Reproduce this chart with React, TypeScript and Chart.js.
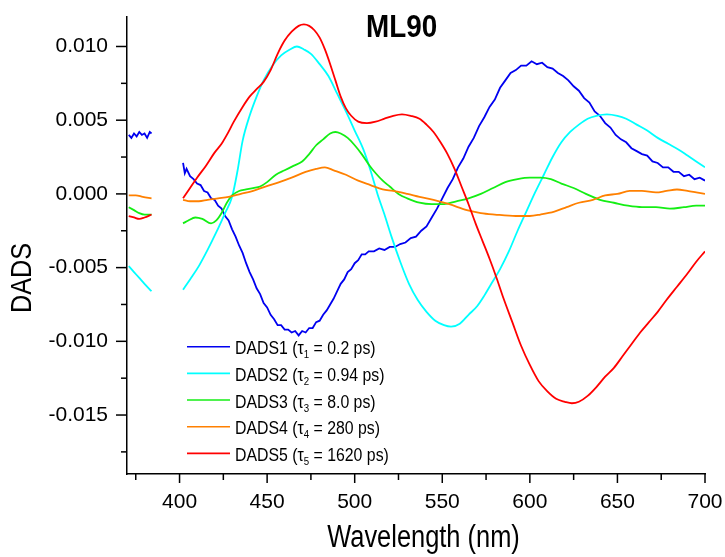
import React, { useEffect, useRef } from "react";
import { Chart, registerables } from "chart.js";

Chart.register(...registerables);

// ---------- axes ----------
const X_MIN = 370;
const X_MAX = 700;
const Y_MIN = -0.019;
const Y_MAX = 0.012;
const X_TICKS = [375, 400, 425, 450, 475, 500, 525, 550, 575, 600, 625, 650, 675, 700];
const X_LABELED = [400, 450, 500, 550, 600, 650, 700];
const Y_TICKS = [-0.0175, -0.015, -0.0125, -0.01, -0.0075, -0.005, -0.0025, 0, 0.0025, 0.005, 0.0075, 0.01];
const Y_LABELED = [-0.015, -0.01, -0.005, 0, 0.005, 0.01];

const TITLE = "ML90";
const X_TITLE = "Wavelength (nm)";
const Y_TITLE = "DADS";

// ---------- legend ----------
const LEGEND_NAMES = ["DADS1", "DADS2", "DADS3", "DADS4", "DADS5"];
const TAU_VALUES = ["0.2", "0.94", "8.0", "280", "1620"];

// ---------- data (null = gap in measurement) ----------
const DADS1_WL = [371, 372.5, 374, 375.5, 377, 378.5, 380, 381.5, 383, 384, 392,
  402, 403, 404, 406, 408, 410, 412, 414, 416, 418, 420, 422, 424, 426, 428, 430, 432, 434, 436, 438, 440,
  442, 444, 446, 448, 450, 452, 454, 456, 458, 460, 462, 464, 466, 468, 470, 472, 474, 476, 478, 480,
  482, 484, 486, 488, 490, 492, 494, 496, 498, 500, 502, 504, 506, 508, 511, 514, 517, 520, 523, 526,
  529, 532, 535, 538, 541, 544, 547, 550, 553, 556, 559, 562, 565, 568, 571, 574, 577, 580, 583, 586,
  589, 592, 595, 598, 601, 604, 607, 610, 613, 616, 619, 622, 625, 628, 631, 634, 637, 640, 643, 646,
  649, 652, 655, 658, 661, 664, 667, 670, 673, 676, 679, 682, 685, 688, 691, 694, 697, 700];
const DADS1 = [0.004, 0.0038, 0.0041, 0.0039, 0.0042, 0.004, 0.0041, 0.0038, 0.0042, 0.0041, null,
  0.0021, 0.0014, 0.0017, 0.0012, 0.001, 0.0007, 0.0006, 0.0002, 0.0001, -0.0003, -0.0004, -0.0008, -0.001, -0.0015, -0.0018, -0.0024, -0.0029, -0.0035, -0.004, -0.0047, -0.0053,
  -0.0058, -0.0064, -0.0068, -0.0074, -0.0077, -0.0082, -0.0085, -0.0089, -0.0089, -0.0092, -0.0092, -0.0094, -0.0093, -0.0096, -0.0093, -0.0094, -0.0091, -0.0091, -0.0087, -0.0086,
  -0.0082, -0.0079, -0.0075, -0.0071, -0.0066, -0.0061, -0.0058, -0.0053, -0.0051, -0.0047, -0.0045, -0.0041, -0.0041, -0.0039, -0.0039, -0.0037, -0.0038, -0.0036, -0.0036, -0.0034,
  -0.0033, -0.003, -0.0029, -0.0025, -0.0022, -0.0016, -0.001, -0.0003, 0.0004, 0.001, 0.0018, 0.0024, 0.0032, 0.0038, 0.0046, 0.0052, 0.0059, 0.0064, 0.0072, 0.0077,
  0.0082, 0.0084, 0.0087, 0.0087, 0.009, 0.0088, 0.0089, 0.0086, 0.0085, 0.0082, 0.008, 0.0077, 0.0073, 0.007, 0.0065, 0.0062, 0.0056, 0.0053, 0.0048, 0.0045,
  0.004, 0.0037, 0.0035, 0.0031, 0.0029, 0.0027, 0.0026, 0.0022, 0.0021, 0.0018, 0.0018, 0.0015, 0.0015, 0.0012, 0.0013, 0.001, 0.0011, 0.0009];

const DADS2_WL = [371, 374, 377, 380, 384, 392,
  402, 406, 411, 416, 421, 426, 430, 433, 436, 440, 444, 448, 453, 458, 463, 467, 471, 475, 480, 485,
  490, 495, 500, 505, 509, 513, 517, 521, 526, 531, 536, 541, 546, 551, 555, 560, 565, 570, 574, 578,
  583, 588, 593, 598, 603, 608, 613, 618, 623, 628, 633, 638, 644, 650, 655, 661, 667, 673, 679, 685,
  690, 695, 700];
const DADS2 = [-0.0049, -0.0053, -0.0057, -0.0061, -0.0066, null,
  -0.0065, -0.0058, -0.0049, -0.0038, -0.0026, -0.0013, -0.0002, 0.0015, 0.0036, 0.0053, 0.0066, 0.0077, 0.0087, 0.0094, 0.0098, 0.01, 0.0098, 0.0095, 0.0088, 0.008,
  0.0068, 0.0056, 0.0043, 0.003, 0.0016, 0.0, -0.0014, -0.0029, -0.0046, -0.0061, -0.0072, -0.008, -0.0086, -0.0089, -0.009, -0.0088, -0.0082, -0.0076, -0.0069, -0.0061,
  -0.0051, -0.0039, -0.0025, -0.0012, 0.0001, 0.0013, 0.0025, 0.0035, 0.0042, 0.0047, 0.0051, 0.0053, 0.0054, 0.0053, 0.0051, 0.0047, 0.0043, 0.0038, 0.0034, 0.003,
  0.0026, 0.0022, 0.0018];

const DADS3_WL = [371, 374, 377, 380, 384, 392,
  402, 405, 409, 413, 418, 421, 424, 427, 430, 434, 438, 442, 446, 450, 455, 460, 465, 470, 474, 478,
  482, 486, 489, 492, 496, 500, 504, 508, 512, 516, 520, 525, 530, 537, 544, 551, 558, 565, 572, 579,
  586, 593, 600, 606, 612, 618, 625, 632, 640, 648, 656, 664, 672, 680, 688, 695, 700];
const DADS3 = [-0.0009, -0.0011, -0.0013, -0.0014, -0.0014, null,
  -0.002, -0.0018, -0.0016, -0.0017, -0.002, -0.0018, -0.0013, -0.0006, -0.0001, 0.0002, 0.0003, 0.0004, 0.0005, 0.0008, 0.0013, 0.0016, 0.0019, 0.0022, 0.0027, 0.0033,
  0.0037, 0.0041, 0.0042, 0.0041, 0.0038, 0.0033, 0.0027, 0.002, 0.0014, 0.0009, 0.0005, 0.0, -0.0003, -0.0006, -0.0007, -0.0007, -0.0005, -0.0003, 0.0, 0.0004,
  0.0008, 0.001, 0.0011, 0.0011, 0.001, 0.0007, 0.0004, 0.0, -0.0004, -0.0006, -0.0008, -0.0009, -0.0009, -0.001, -0.0009, -0.0008, -0.0008];

const DADS4_WL = [371, 375, 379, 384, 392,
  402, 406, 411, 416, 422, 428, 435, 442, 449, 457, 464, 472, 478, 483, 488, 495, 502, 509, 516, 522,
  530, 537, 545, 554, 564, 572, 580, 592, 600, 606, 614, 621, 628, 636, 643, 650, 657, 664, 672, 678,
  684, 690, 695, 700];
const DADS4 = [-0.0001, -0.0001, -0.0002, -0.0003, null,
  -0.0004, -0.0005, -0.0005, -0.0004, -0.0003, -0.0002, 0.0, 0.0002, 0.0005, 0.0008, 0.0011, 0.0015, 0.0017, 0.0018, 0.0016, 0.0013, 0.0009, 0.0006, 0.0003, 0.0002,
  0.0, -0.0002, -0.0004, -0.0007, -0.0011, -0.0013, -0.0014, -0.0015, -0.0015, -0.0014, -0.0012, -0.0009, -0.0006, -0.0004, -0.0001, 0.0, 0.0002, 0.0002, 0.0001, 0.0002,
  0.0003, 0.0002, 0.0001, 0.0];

const DADS5_WL = [371, 374, 377, 380, 384, 392,
  402, 406, 410, 415, 420, 424, 427, 431, 436, 440, 444, 448, 452, 456, 460, 464, 468, 471, 474, 477,
  480, 483, 486, 489, 492, 495, 498, 502, 507, 512, 517, 522, 527, 532, 537, 541, 545, 549, 553, 557,
  561, 565, 569, 573, 577, 581, 585, 590, 595, 600, 605, 610, 615, 620, 624, 628, 633, 638, 643, 648,
  653, 658, 663, 668, 673, 678, 684, 690, 695, 700];
const DADS5 = [-0.0015, -0.0016, -0.0017, -0.0016, -0.0014, null,
  -0.0003, 0.0004, 0.0011, 0.0019, 0.0028, 0.0034, 0.004, 0.0049, 0.0059, 0.0066, 0.0071, 0.0076, 0.0084, 0.0095, 0.0104, 0.011, 0.0114, 0.0115, 0.0114, 0.0111,
  0.0106, 0.0098, 0.0088, 0.0077, 0.0066, 0.0058, 0.0053, 0.0049, 0.0048, 0.0049, 0.0051, 0.0053, 0.0054, 0.0053, 0.0051, 0.0047, 0.0042, 0.0035, 0.0027, 0.0017,
  0.0005, -0.0007, -0.002, -0.0032, -0.0044, -0.0057, -0.0071, -0.0087, -0.0103, -0.0116, -0.0127, -0.0134, -0.0139, -0.0141, -0.0142, -0.0141, -0.0137, -0.0131, -0.0124, -0.0118,
  -0.011, -0.0102, -0.0094, -0.0087, -0.008, -0.0072, -0.0063, -0.0054, -0.0046, -0.0039];

const SERIES_WL = [DADS1_WL, DADS2_WL, DADS3_WL, DADS4_WL, DADS5_WL];
const SERIES_VALUES = [DADS1, DADS2, DADS3, DADS4, DADS5];
const COLORS = ["#0000F0", "#00FFFF", "#14EE14", "#FF8000", "#FF0000"];

const FONT = '"Liberation Sans", Arial, Helvetica, sans-serif';

function isIn(list: number[], v: number) {
  return list.some((u) => Math.abs(u - v) < 1e-9);
}

function stretchedText(
  ctx: CanvasRenderingContext2D,
  text: string,
  x: number,
  y: number,
  font: string,
  sx: number,
  angle = 0
) {
  ctx.save();
  ctx.translate(x, y);
  if (angle) ctx.rotate(angle);
  ctx.scale(sx, 1);
  ctx.font = font;
  ctx.textAlign = "center";
  ctx.textBaseline = "middle";
  ctx.fillStyle = "#000";
  ctx.fillText(text, 0, 0);
  ctx.restore();
}

function zeroPadding(scale: any) {
  scale.paddingTop = 0;
  scale.paddingBottom = 0;
  scale.paddingLeft = 0;
  scale.paddingRight = 0;
}

const decorPlugin = {
  id: "decor",
  afterDraw(chart: any) {
    const ctx: CanvasRenderingContext2D = chart.ctx;
    const xs = chart.scales.x;
    const ys = chart.scales.y;
    ctx.save();
    // tick marks (major / minor)
    ctx.strokeStyle = "#000";
    ctx.lineWidth = 1.5;
    X_TICKS.forEach((v) => {
      const px = xs.getPixelForValue(v);
      const len = isIn(X_LABELED, v) ? 9 : 6;
      ctx.beginPath();
      ctx.moveTo(px, xs.top);
      ctx.lineTo(px, xs.top + len);
      ctx.stroke();
    });
    Y_TICKS.forEach((v) => {
      const py = ys.getPixelForValue(v);
      const len = isIn(Y_LABELED, v) ? 11 : 6;
      ctx.beginPath();
      ctx.moveTo(ys.right, py);
      ctx.lineTo(ys.right - len, py);
      ctx.stroke();
    });

    // title and axis titles
    stretchedText(ctx, TITLE, 401.7, 28.5, "bold 32px " + FONT, 0.87);
    stretchedText(ctx, X_TITLE, 423.5, 538.5, "31px " + FONT, 0.82);
    stretchedText(ctx, Y_TITLE, 22.5, 278, "30px " + FONT, 0.84, -Math.PI / 2);

    // legend
    LEGEND_NAMES.forEach((name, i) => {
      const y = 346.7 + i * 26.67;
      ctx.strokeStyle = COLORS[i];
      ctx.lineWidth = 1.6;
      ctx.beginPath();
      ctx.moveTo(187, y);
      ctx.lineTo(230, y);
      ctx.stroke();

      ctx.save();
      ctx.translate(235, y);
      ctx.scale(0.88, 1);
      ctx.fillStyle = "#000";
      ctx.textAlign = "left";
      ctx.textBaseline = "alphabetic";
      const base = 7.5;
      let cx = 0;
      ctx.font = "18px " + FONT;
      const p1 = name + " (\u03C4";
      ctx.fillText(p1, cx, base);
      cx += ctx.measureText(p1).width;
      ctx.font = "11px " + FONT;
      const sub = String(i + 1);
      ctx.fillText(sub, cx, base + 4);
      cx += ctx.measureText(sub).width;
      ctx.font = "18px " + FONT;
      ctx.fillText(" = " + TAU_VALUES[i] + " ps)", cx, base);
      ctx.restore();
    });
    ctx.restore();
  },
};

export default function App() {
  const canvasRef = useRef<HTMLCanvasElement | null>(null);

  useEffect(() => {
    document.body.style.margin = "0";
    const canvas = canvasRef.current;
    if (!canvas) return;

    const datasets = LEGEND_NAMES.map((name, i) => ({
      label: name,
      data: SERIES_WL[i].map((x, j) => ({ x, y: SERIES_VALUES[i][j] })),
      borderColor: COLORS[i],
      backgroundColor: COLORS[i],
      borderWidth: 1.8,
      pointRadius: 0,
      spanGaps: false,
      tension: 0,
      cubicInterpolationMode: i === 0 ? "default" : "monotone",
      order: 5 - i,
    }));

    const chart = new Chart(canvas, {
      type: "line",
      data: { datasets } as any,
      options: {
        animation: false,
        responsive: false,
        maintainAspectRatio: false,
        events: [],
        layout: { padding: { top: 17, right: 20, left: 0, bottom: 0 } },
        plugins: {
          legend: { display: false },
          tooltip: { enabled: false },
          title: { display: false },
        },
        scales: {
          x: {
            type: "linear",
            min: X_MIN,
            max: X_MAX,
            afterBuildTicks: (scale: any) => {
              scale.ticks = X_TICKS.map((v) => ({ value: v }));
            },
            afterFit: (scale: any) => {
              scale.height = 83;
              zeroPadding(scale);
            },
            grid: { display: false, drawTicks: false },
            border: { display: true, color: "#000", width: 1.5 },
            ticks: {
              autoSkip: false,
              maxRotation: 0,
              padding: 16,
              color: "#000",
              font: { family: FONT, size: 21 },
              callback: (value: any) => (isIn(X_LABELED, Number(value)) ? String(value) : ""),
            },
          },
          y: {
            type: "linear",
            min: Y_MIN,
            max: Y_MAX,
            afterBuildTicks: (scale: any) => {
              scale.ticks = Y_TICKS.map((v) => ({ value: v }));
            },
            afterFit: (scale: any) => {
              scale.width = 127;
              zeroPadding(scale);
            },
            grid: { display: false, drawTicks: false },
            border: { display: true, color: "#000", width: 1.5 },
            ticks: {
              autoSkip: false,
              padding: 19,
              color: "#000",
              font: { family: FONT, size: 21 },
              callback: (value: any) => {
                const v = Number(value);
                return isIn(Y_LABELED, v) ? (v < -1e-12 ? "-" : "") + Math.abs(v).toFixed(3) : "";
              },
            },
          },
        },
      } as any,
      plugins: [decorPlugin],
    });

    return () => chart.destroy();
  }, []);

  return (
    <div style={{ position: "absolute", left: 0, top: 0, width: 725, height: 557, background: "#fff" }}>
      <canvas ref={canvasRef} width={725} height={557} />
    </div>
  );
}
